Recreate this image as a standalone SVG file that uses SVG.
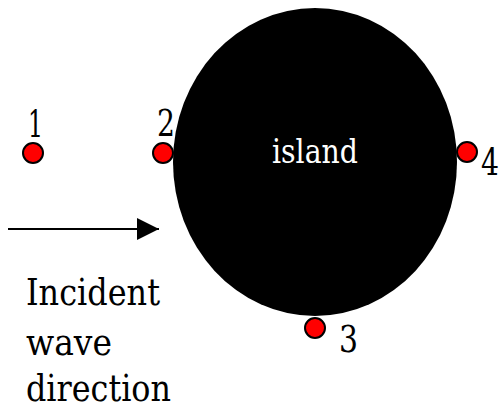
<svg xmlns="http://www.w3.org/2000/svg" width="502" height="409" viewBox="0 0 502 409">
<style>
.dot{fill:#ff0000;stroke:#000;stroke-width:2}
.s{font-family:'DejaVu Serif',serif}
</style>
<defs>
<marker id="ah" markerUnits="userSpaceOnUse" markerWidth="24" markerHeight="24" refX="22" refY="11" orient="auto">
<path d="M0,0 L22,11 L0,22 Z" fill="#000"/>
</marker>
</defs>
<rect width="502" height="409" fill="#fff"/>
<g id="island">
<ellipse cx="315" cy="162" rx="142" ry="154" fill="#000"/>
<text class="s" x="272" y="163" font-size="33" fill="#fff" textLength="86" lengthAdjust="spacingAndGlyphs">island</text>
</g>
<g class="s" font-size="38" fill="#000">
<g id="p1"><circle class="dot" cx="33" cy="153" r="10"/><text x="28" y="137" textLength="15" lengthAdjust="spacingAndGlyphs">1</text></g>
<g id="p2"><circle class="dot" cx="163" cy="153" r="10"/><text x="157" y="136" textLength="18" lengthAdjust="spacingAndGlyphs">2</text></g>
<g id="p4"><circle class="dot" cx="467" cy="152" r="10"/><text x="481" y="175" textLength="18" lengthAdjust="spacingAndGlyphs">4</text></g>
<g id="p3"><circle class="dot" cx="315" cy="328" r="10"/><text x="339" y="352" textLength="19" lengthAdjust="spacingAndGlyphs">3</text></g>
</g>
<g id="connectors">
<line x1="8" y1="229" x2="159" y2="229" stroke="#000" stroke-width="2" marker-end="url(#ah)"/>
</g>
<g id="label" class="s" font-size="38" fill="#000">
<text x="26" y="305" textLength="134" lengthAdjust="spacingAndGlyphs">Incident</text>
<text x="26" y="355" textLength="86" lengthAdjust="spacingAndGlyphs">wave</text>
<text x="26" y="401" textLength="145" lengthAdjust="spacingAndGlyphs">direction</text>
</g>
</svg>
